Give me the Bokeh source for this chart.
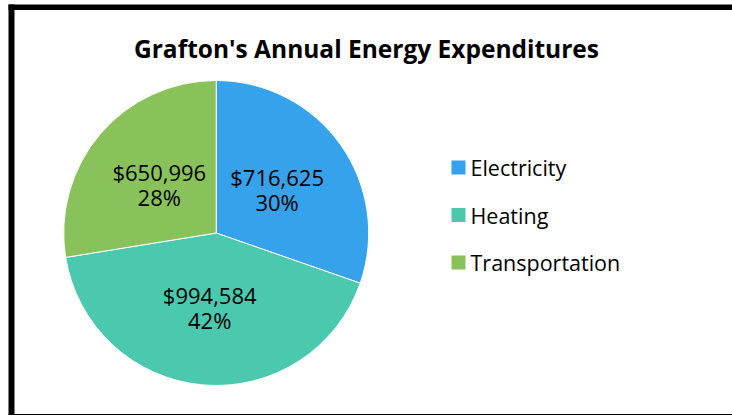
import math
from bokeh.plotting import figure
from bokeh.models import Range1d, BoxAnnotation
from bokeh.core.properties import value
from bokeh.embed import file_html
from bokeh.resources import INLINE

title = "Grafton's Annual Energy Expenditures"
categories = ["Electricity", "Heating", "Transportation"]
amounts = [716625, 994584, 650996]
colors = ["#36A2EB", "#4BC9AF", "#89C15A"]

FONT = "Open Sans"
W, H = 732, 415
p = figure(width=W, height=H, x_range=Range1d(0, W), y_range=Range1d(-H, 0),
           output_backend="svg", toolbar_location=None, min_border=0,
           x_axis_location=None, y_axis_location=None)
p.grid.visible = False
p.outline_line_color = None
p.background_fill_color = "white"
p.border_fill_color = "white"

# borders
p.add_layout(BoxAnnotation(left=8, right=14, bottom=-415, top=-4, fill_color="black",
                           fill_alpha=1, line_color=None))
p.add_layout(BoxAnnotation(left=8, right=732, bottom=-9.5, top=-4, fill_color="black",
                           fill_alpha=1, line_color=None))
p.add_layout(BoxAnnotation(left=8, right=732, bottom=-415, top=-413.5, fill_color="black",
                           fill_alpha=1, line_color=None))

# title
p.text(x=[366], y=[-48], text=[title], text_font=value(FONT), text_font_style="bold",
       text_font_size="24.5px", text_align="center", text_baseline="middle", text_color="black")

# pie
cx, cy, r = 215.7, 232.5, 152.5
total = sum(amounts)
cum = 0.0
starts, ends, lx, ly, labels = [], [], [], [], []
for a in amounts:
    f0 = cum / total
    f1 = (cum + a) / total
    s = math.pi / 2 - 2 * math.pi * f0
    e = math.pi / 2 - 2 * math.pi * f1
    starts.append(s)
    ends.append(e)
    m = (s + e) / 2
    lx.append(cx + 0.49 * r * math.cos(m))
    ly.append(-(cy - 0.49 * r * math.sin(m)))
    labels.append("${:,}\n{:d}%".format(a, round(100 * a / total)))
    cum += a

p.wedge(x=cx, y=-cy, radius=r, start_angle=starts, end_angle=ends, direction="clock",
        fill_color=colors, line_color="white", line_width=1)
p.text(x=lx, y=ly, text=labels, text_font=value(FONT), text_font_size="22px",
       text_align="center", text_baseline="middle", text_color="black", text_line_height=0.85)

# legend
leg_y = [-(167 + 47.5 * i) for i in range(len(categories))]
p.scatter(x=[458] * len(categories), y=leg_y, marker="square", size=14, fill_color=colors,
          line_color=None)
p.text(x=[470] * len(categories), y=leg_y, text=categories, text_font=value(FONT),
       text_font_size="21.5px", text_align="left", text_baseline="middle", text_color="black")

open("out.html", "w").write(file_html(p, INLINE))
